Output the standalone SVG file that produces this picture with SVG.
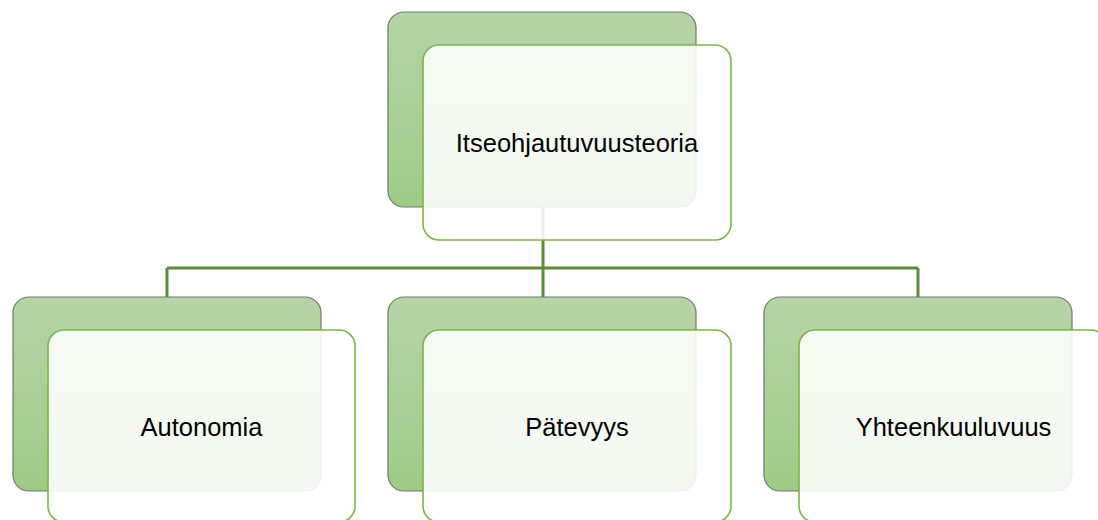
<svg xmlns="http://www.w3.org/2000/svg" width="1098" height="520" viewBox="0 0 1098 520">
<style>
.back{fill:url(#g);stroke:#6f7a69;stroke-width:1.2}
.front{fill:#ffffff;fill-opacity:0.88;stroke:#7ab648;stroke-width:1.6}
.lbl{font-family:"Liberation Sans",Arial,sans-serif;font-size:25.5px;fill:#000;text-anchor:middle}
.con{fill:none;stroke:#5b8c38;stroke-width:3}
</style>
<defs>
<linearGradient id="g" x1="0" y1="0" x2="0" y2="1">
<stop offset="0" stop-color="#b6d4a7"/>
<stop offset="1" stop-color="#9ecb86"/>
</linearGradient>
</defs>
<rect width="1098" height="520" fill="#fff"/>
<g id="connectors">
<path class="con" d="M543,207 V268 M167,268 H918 M167,268 V297 M543,268 V297 M918,268 V297"/>
</g>
<g id="node-top">
<rect class="back" x="388" y="12" width="308" height="195" rx="16"/>
<rect class="front" x="423" y="45" width="308" height="195" rx="16"/>
<text class="lbl" x="577" y="152">Itseohjautuvuusteoria</text>
</g>
<g id="node-autonomia">
<rect class="back" x="13" y="297" width="308" height="194" rx="16"/>
<rect class="front" x="48" y="330" width="307" height="192" rx="16"/>
<text class="lbl" x="201.5" y="436">Autonomia</text>
</g>
<g id="node-patevyys">
<rect class="back" x="388" y="297" width="308" height="194" rx="16"/>
<rect class="front" x="423" y="330" width="308" height="192" rx="16"/>
<text class="lbl" x="577" y="436">Pätevyys</text>
</g>
<g id="node-yhteenkuuluvuus">
<rect class="back" x="764" y="297" width="308" height="194" rx="16"/>
<rect class="front" x="799" y="330" width="308" height="192" rx="16"/>
<text class="lbl" x="953.5" y="436">Yhteenkuuluvuus</text>
</g>
</svg>
